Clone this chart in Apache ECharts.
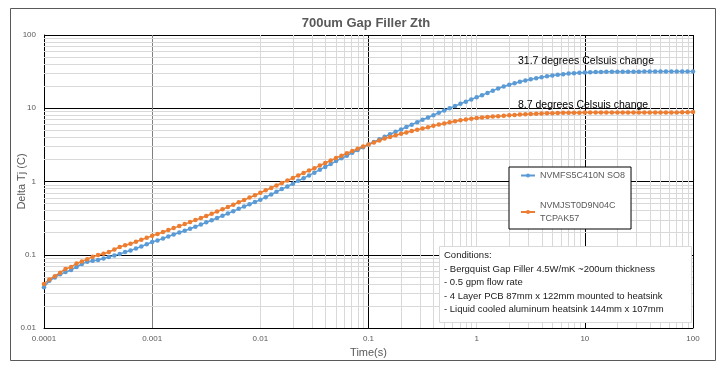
<!DOCTYPE html>
<html>
<head>
<meta charset="utf-8">
<script src="https://cdn.jsdelivr.net/npm/echarts@6/dist/echarts.min.js"></script>
<style>html,body{margin:0;padding:0;background:#fff;}#chart{width:722px;height:366px;}</style>
</head>
<body>
<div id="chart"></div>
<script>
const titleText = '700um Gap Filler Zth';
const xAxisName = 'Time(s)';
const yAxisName = 'Delta Tj (C)';
const xTickLabels = ['0.0001', '0.001', '0.01', '0.1', '1', '10', '100'];
const yTickLabels = ['0.01', '0.1', '1', '10', '100'];
const seriesNames = ['NVMFS5C410N SO8', 'NVMJST0D9N04C TCPAK57'];
const annotations = ['31.7 degrees Celsuis change', '8.7 degrees Celsuis change'];
const conditions = [
  'Conditions:',
  '- Bergquist Gap Filler 4.5W/mK ~200um thickness',
  '- 0.5 gpm flow rate',
  '- 4 Layer PCB 87mm x 122mm mounted to heatsink',
  '- Liquid cooled aluminum heatsink 144mm x 107mm'
];
const times = [
  1.00e-4,1.12e-4,1.26e-4,1.41e-4,1.58e-4,1.78e-4,2.00e-4,2.24e-4,2.51e-4,2.82e-4,
  3.16e-4,3.55e-4,3.98e-4,4.47e-4,5.01e-4,5.62e-4,6.31e-4,7.08e-4,7.94e-4,8.91e-4,
  1.00e-3,1.12e-3,1.26e-3,1.41e-3,1.58e-3,1.78e-3,2.00e-3,2.24e-3,2.51e-3,2.82e-3,
  3.16e-3,3.55e-3,3.98e-3,4.47e-3,5.01e-3,5.62e-3,6.31e-3,7.08e-3,7.94e-3,8.91e-3,
  1.00e-2,1.12e-2,1.26e-2,1.41e-2,1.58e-2,1.78e-2,2.00e-2,2.24e-2,2.51e-2,2.82e-2,
  3.16e-2,3.55e-2,3.98e-2,4.47e-2,5.01e-2,5.62e-2,6.31e-2,7.08e-2,7.94e-2,8.91e-2,
  1.00e-1,1.12e-1,1.26e-1,1.41e-1,1.58e-1,1.78e-1,2.00e-1,2.24e-1,2.51e-1,2.82e-1,
  3.16e-1,3.55e-1,3.98e-1,4.47e-1,5.01e-1,5.62e-1,6.31e-1,7.08e-1,7.94e-1,8.91e-1,
  1.00,1.12,1.26,1.41,1.58,1.78,2.00,2.24,2.51,2.82,
  3.16,3.55,3.98,4.47,5.01,5.62,6.31,7.08,7.94,8.91,
  10.0,11.2,12.6,14.1,15.8,17.8,20.0,22.4,25.1,28.2,
  31.6,35.5,39.8,44.7,50.1,56.2,63.1,70.8,79.4,89.1,
  100
];
const blueValues = [
  0.036,0.044,0.049,0.054,0.058,0.062,0.068,0.075,0.080,0.083,
  0.085,0.089,0.093,0.098,0.102,0.109,0.114,0.122,0.130,0.139,
  0.149,0.157,0.167,0.178,0.189,0.201,0.213,0.226,0.241,0.258,
  0.277,0.296,0.318,0.341,0.366,0.394,0.423,0.454,0.490,0.525,
  0.562,0.611,0.664,0.723,0.787,0.857,0.933,1.02,1.11,1.21,
  1.32,1.45,1.58,1.73,1.90,2.07,2.25,2.47,2.69,2.94,
  3.20,3.47,3.76,4.07,4.42,4.76,5.13,5.55,5.97,6.46,
  6.97,7.48,8.05,8.67,9.33,10.0,10.7,11.5,12.3,13.2,
  14.1,15.1,16.2,17.4,18.6,19.8,20.9,22.0,23.0,24.0,
  24.9,25.7,26.5,27.3,28.0,28.6,29.2,29.7,30.1,30.5,
  30.8,31.0,31.2,31.3,31.4,31.5,31.5,31.6,31.6,31.6,
  31.6,31.7,31.7,31.7,31.7,31.7,31.7,31.7,31.7,31.7,
  31.7
];
const orangeValues = [
  0.040,0.046,0.051,0.057,0.064,0.068,0.076,0.081,0.087,0.094,
  0.099,0.103,0.109,0.118,0.128,0.135,0.141,0.150,0.160,0.170,
  0.182,0.192,0.204,0.217,0.231,0.246,0.262,0.279,0.297,0.317,
  0.338,0.362,0.389,0.417,0.448,0.482,0.520,0.560,0.603,0.650,
  0.700,0.759,0.818,0.885,0.955,1.03,1.12,1.21,1.31,1.41,
  1.52,1.65,1.79,1.93,2.09,2.25,2.43,2.60,2.80,3.00,
  3.20,3.41,3.63,3.85,4.06,4.29,4.49,4.68,4.88,5.08,
  5.30,5.52,5.75,5.98,6.21,6.43,6.64,6.84,7.02,7.18,
  7.35,7.48,7.60,7.70,7.80,7.90,8.00,8.10,8.19,8.27,
  8.34,8.41,8.47,8.53,8.57,8.61,8.65,8.68,8.70,8.71,
  8.72,8.72,8.72,8.72,8.73,8.73,8.73,8.73,8.73,8.74,
  8.74,8.74,8.74,8.74,8.74,8.75,8.76,8.78,8.82,8.85,
  8.86
];

const colors = ['#5B9BD5', '#ED7D31'];
const FONT = 'Liberation Sans, Arial, sans-serif';

// minor gridline positions (2..9 within each decade)
const minorX = [];
for (let e = -4; e < 2; e++) for (let k = 2; k <= 9; k++) minorX.push(+(k * Math.pow(10, e)).toPrecision(3));
const minorY = [];
for (let e = -2; e < 2; e++) for (let k = 2; k <= 9; k++) minorY.push(+(k * Math.pow(10, e)).toPrecision(3));

function decadeLabel(list, offset) {
  return function (v) {
    const e = Math.round(Math.log10(v));
    return list[e + offset] !== undefined ? list[e + offset] : '';
  };
}

const chart = echarts.init(document.getElementById('chart'), null, { renderer: 'canvas' });

const option = {
  animation: false,
  backgroundColor: '#fff',
  textStyle: { fontFamily: FONT },
  title: {
    text: titleText,
    left: 361, top: 12, textAlign: 'center',
    textStyle: { fontSize: 13, fontWeight: 'bold', color: '#595959', fontFamily: FONT }
  },
  grid: { left: 44, top: 35, right: 29, bottom: 38, containLabel: false, outerBoundsMode: 'none' },
  legend: {
    orient: 'vertical',
    left: 509, top: 167, z: 50,
    backgroundColor: '#fff',
    borderColor: '#000', borderWidth: 1,
    padding: [2, 6, 4, 11],
    itemWidth: 14, itemHeight: 5, itemGap: 17,
    textStyle: { fontSize: 9, color: '#595959', fontFamily: FONT, lineHeight: 13 },
    formatter: function (name) { return name === seriesNames[1] ? 'NVMJST0D9N04C\nTCPAK57' : name; },
    data: seriesNames
  },
  xAxis: {
    type: 'log', logBase: 10, min: 1e-4, max: 100, interval: 1,
    name: xAxisName, nameLocation: 'middle', nameGap: 19, nameMoveOverlap: false,
    nameTextStyle: { fontSize: 11, color: '#595959', fontFamily: FONT },
    axisLine: { show: true, lineStyle: { color: '#000', width: 1 } },
    axisTick: { show: false },
    axisLabel: { fontSize: 8, color: '#595959', margin: 7, formatter: decadeLabel(xTickLabels, 4) },
    splitLine: { show: true, lineStyle: { color: ['#000', '#808080', '#000', '#000', '#d9d9d9', '#000', '#000'], width: 1 } },
    minorTick: { show: false }, minorSplitLine: { show: false }
  },
  yAxis: {
    type: 'log', logBase: 10, min: 0.01, max: 100, interval: 1,
    name: yAxisName, nameLocation: 'middle', nameGap: 17, nameMoveOverlap: false,
    nameTextStyle: { fontSize: 11, color: '#595959', fontFamily: FONT },
    axisLine: { show: true, lineStyle: { color: '#000', width: 1 } },
    axisTick: { show: false },
    axisLabel: { fontSize: 8, color: '#595959', margin: 8, formatter: decadeLabel(yTickLabels, 2) },
    splitLine: { show: true, lineStyle: { color: '#000', width: 1 } },
    minorTick: { show: false }, minorSplitLine: { show: false }
  },
  series: [
    {
      name: '_minorGrid', type: 'line', data: [], z: 1, silent: true,
      markLine: {
        silent: true, symbol: ['none', 'none'], label: { show: false },
        lineStyle: { color: '#d9d9d9', width: 1, type: 'solid' },
        animation: false, z: 1,
        data: minorX.map(v => ({ xAxis: v })).concat(minorY.map(v => ({ yAxis: v })))
      }
    },
    {
      name: seriesNames[0], type: 'line', z: 3,
      data: times.map((t, i) => [t, blueValues[i]]),
      color: colors[0],
      lineStyle: { width: 1.5, color: colors[0] },
      symbol: 'circle', symbolSize: 4.5,
      itemStyle: { color: colors[0] }
    },
    {
      name: seriesNames[1], type: 'line', z: 3,
      data: times.map((t, i) => [t, orangeValues[i]]),
      color: colors[1],
      lineStyle: { width: 1.5, color: colors[1] },
      symbol: 'circle', symbolSize: 4.5,
      itemStyle: { color: colors[1] }
    }
  ],
  graphic: [
    {
      type: 'rect', z: 0, silent: true,
      shape: { x: 10.5, y: 8.5, width: 705, height: 352 },
      style: { fill: 'none', stroke: '#595959', lineWidth: 1 }
    },
    {
      type: 'text', z: 100, left: 518, top: 56,
      style: { text: annotations[0], fill: '#000', font: '10.5px ' + FONT }
    },
    {
      type: 'text', z: 100, left: 518, top: 100,
      style: { text: annotations[1], fill: '#000', font: '10.5px ' + FONT }
    },
    {
      type: 'group', z: 100, left: 439, top: 246,
      children: [
        {
          type: 'rect', z: 100,
          shape: { x: 0.5, y: 0.5, width: 252, height: 76 },
          style: { fill: '#fff', stroke: '#d9d9d9', lineWidth: 1 }
        },
        {
          type: 'text', z: 101, left: 5, top: 3,
          style: {
            text: conditions.join('\n'),
            font: '9.5px ' + FONT, fill: '#1a1a1a', lineHeight: 13.5
          }
        }
      ]
    }
  ]
};
chart.setOption(option);
</script>
</body>
</html>
